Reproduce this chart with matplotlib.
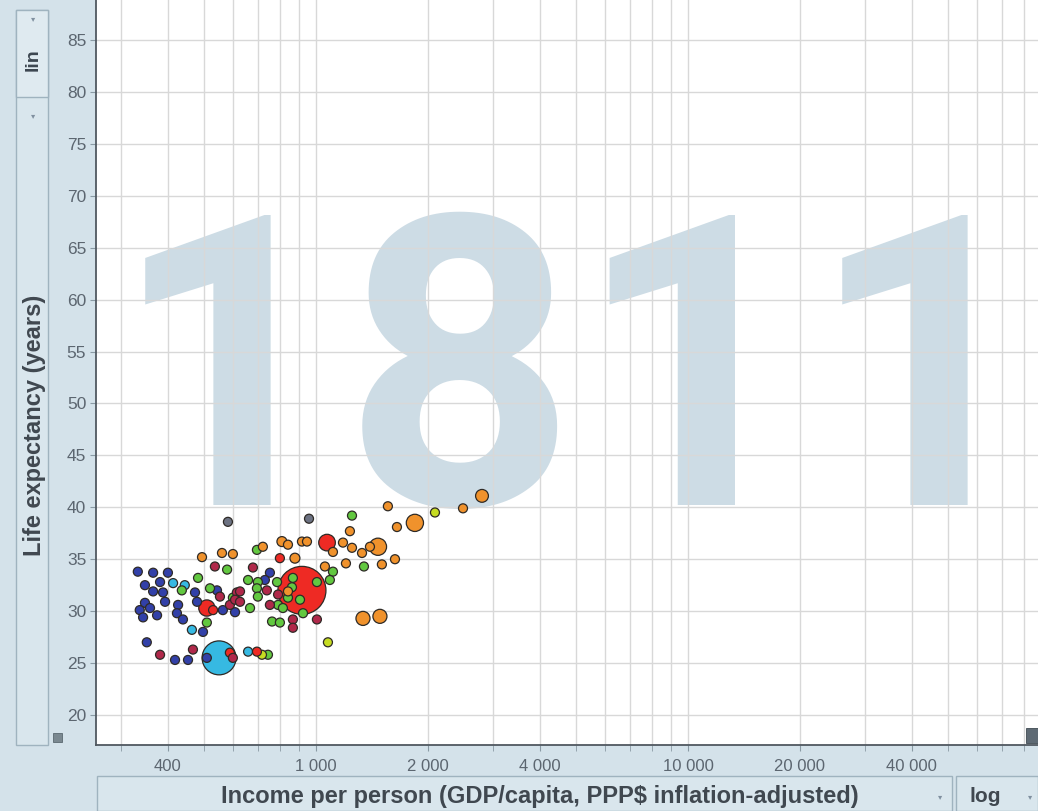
import numpy as np
import matplotlib
matplotlib.use('Agg')
import matplotlib.pyplot as plt
from matplotlib.patches import Rectangle
from matplotlib.ticker import FixedLocator, NullFormatter, FixedFormatter

# ---------------- data (year 1811) ----------------
year_label = "1811"

# Sub-Saharan Africa
income_ssa = [332, 365, 400, 347, 381, 365, 388, 393, 473, 479, 426, 347, 336, 358,
              343, 374, 423, 439, 542, 562, 497, 351, 418, 453, 509, 606, 752, 729]
life_ssa = [33.8, 33.7, 33.7, 32.5, 32.8, 31.9, 31.8, 30.9, 31.8, 30.9, 30.6, 30.8, 30.1, 30.3,
            29.4, 29.6, 29.8, 29.2, 32.0, 30.1, 28.0, 27.0, 25.3, 25.3, 25.5, 29.9, 33.7, 33.0]
pop_ssa = [3, 4, 4, 5, 4, 5, 5, 6, 6, 5, 4, 4, 4, 4, 4, 4, 4, 5, 5, 4, 5, 4, 4, 4, 5, 4, 5, 4]

# South Asia
income_sa = [549, 413, 444, 464, 657]
life_sa = [25.5, 32.7, 32.5, 28.2, 26.1]
pop_sa = [175, 4, 4, 4, 5]

# Middle East & North Africa
income_mena = [482, 519, 577, 598, 509, 436, 694, 657, 698, 786, 867, 841, 694, 698, 665,
               791, 815, 906, 1006, 1111, 1090, 923, 762, 800, 743, 1250, 1346, 862]
life_mena = [33.2, 32.2, 34.0, 31.3, 28.9, 32.0, 35.9, 33.0, 32.8, 32.8, 33.2, 31.3, 32.2, 31.4, 30.3,
             30.6, 30.3, 31.1, 32.8, 33.8, 33.0, 29.8, 29.0, 28.9, 25.8, 39.2, 34.3, 32.3]
pop_mena = [4] * 28

# America
income_am = [1077, 2089, 716]
life_am = [27.0, 39.5, 25.8]
pop_am = [6, 6, 4]

# Europe & Central Asia
income_eu = [1468, 1845, 2795, 1338, 1486, 2485, 1561, 1234, 1651, 1631, 1504, 1204, 1111, 1182,
             1250, 1330, 1397, 1057, 810, 841, 917, 946, 878, 720, 598, 559, 494, 841]
life_eu = [36.2, 38.5, 41.1, 29.3, 29.5, 39.9, 40.1, 37.7, 38.1, 35.0, 34.5, 34.6, 35.7, 36.6,
           36.1, 35.6, 36.2, 34.3, 36.7, 36.4, 36.7, 36.7, 35.1, 36.2, 35.5, 35.6, 35.2, 31.9]
pop_eu = [45, 45, 25, 30, 30, 10, 8, 10, 8, 12, 10, 8, 8, 6,
          8, 8, 10, 5, 15, 8, 6, 8, 15, 6, 5, 4, 4, 5]

# East Asia & Pacific
income_eap = [917, 1071, 509, 529, 800, 694, 587]
life_eap = [32.0, 36.6, 30.3, 30.1, 35.1, 26.1, 26.0]
pop_eap = [350, 42, 40, 6, 5, 5, 5]

# East Asia & Pacific (smaller economies, darker tone)
income_oth = [535, 552, 587, 613, 677, 738, 791, 625, 606, 625, 752, 1006, 867, 867, 381, 467, 598]
life_oth = [34.3, 31.4, 30.6, 31.8, 34.2, 32.0, 31.6, 31.9, 31.1, 30.9, 30.6, 29.2, 29.2, 28.4, 25.8, 26.3, 25.5]
pop_oth = [4, 5, 5, 4, 4, 4, 4, 4, 4, 4, 4, 5, 4, 5, 3, 4, 5]

# unclassified
income_unk = [580, 958]
life_unk = [38.6, 38.9]
pop_unk = [4, 4]

x_ticks = [400, 1000, 2000, 4000, 10000, 20000, 40000]
x_tick_labels = ["400", "1 000", "2 000", "4 000", "10 000", "20 000", "40 000"]
y_ticks = list(range(20, 90, 5))

groups = [
    (income_ssa, life_ssa, pop_ssa, '#3240a8'),
    (income_sa, life_sa, pop_sa, '#36b9e2'),
    (income_mena, life_mena, pop_mena, '#62c840'),
    (income_am, life_am, pop_am, '#c6dc22'),
    (income_eu, life_eu, pop_eu, '#f0922c'),
    (income_eap, life_eap, pop_eap, '#ee2a24'),
    (income_oth, life_oth, pop_oth, '#b0284a'),
    (income_unk, life_unk, pop_unk, '#6c7282'),
]

# ---------------- figure ----------------
W, H = 1038, 811
fig = plt.figure(figsize=(W / 100, H / 100), dpi=100)
bg = '#d4e2ea'
fig.patch.set_facecolor(bg)

def fx(px):
    return px / W

def fy(py):
    return 1 - py / H

ax = fig.add_axes([fx(96), fy(745), fx(1038) - fx(96), fy(0) - fy(745)])
ax.set_facecolor('white')
ax.set_xscale('log')
ax.set_xlim(256.3, 87300)
ax.set_ylim(17.11, 88.85)

# grid
minor_vals = [m * 10 ** e for e in (2, 3, 4) for m in range(1, 10)]
ax.xaxis.set_major_locator(FixedLocator(x_ticks))
ax.xaxis.set_major_formatter(FixedFormatter(x_tick_labels))
ax.xaxis.set_minor_locator(FixedLocator([v for v in minor_vals if v not in x_ticks]))
ax.xaxis.set_minor_formatter(NullFormatter())
ax.set_yticks(y_ticks)
ax.grid(True, which='both', color='#d8d8d8', linewidth=1.0, zorder=1)

for s in ('top', 'right'):
    ax.spines[s].set_visible(False)
for s in ('left', 'bottom'):
    ax.spines[s].set_color('#505860')
    ax.spines[s].set_linewidth(1.3)
ax.tick_params(axis='both', which='both', direction='out', length=4, color='#8a9aa4',
               labelcolor='#5c6670')
ax.tick_params(axis='y', pad=3, labelsize=12.5)
ax.tick_params(axis='x', pad=6, labelsize=12)
for lab in ax.get_xticklabels() + ax.get_yticklabels():
    lab.set_family('Liberation Sans')

# watermark year
ax.text(0.5106, 0.322, year_label, transform=ax.transAxes, fontsize=292,
        fontweight='bold', family='Roboto', color='#cddce5',
        ha='center', va='baseline', zorder=0.5)

# bubbles
xs, ys, ps, cs = [], [], [], []
for inc, lif, pop, col in groups:
    xs += inc
    ys += lif
    ps += pop
    cs += [col] * len(inc)
xs = np.array(xs, float)
ys = np.array(ys, float)
ps = np.array(ps, float)
r_px = np.maximum(4.5, 24 * np.sqrt(ps / 350.0))
sizes = (2 * r_px * 0.72) ** 2
order = np.argsort(-sizes, kind='stable')
ax.scatter(xs[order], ys[order], s=sizes[order], c=[cs[i] for i in order],
           edgecolors='#2e2a26', linewidths=0.9, zorder=3)

# ---------------- surrounding panels ----------------
# left control panel
fig.patches.append(Rectangle((fx(16), fy(745)), fx(32), fy(10) - fy(745), transform=fig.transFigure,
                             facecolor='#d9e6ed', edgecolor='#9fb3bf', linewidth=1.0, zorder=0))
fig.patches.append(Rectangle((fx(16), fy(97)), fx(32), fy(10) - fy(97), transform=fig.transFigure,
                             facecolor='#dfeaf0', edgecolor='#9fb3bf', linewidth=1.0, zorder=0))
fig.text(fx(33), fy(60), "lin", rotation=90, ha='center', va='center', fontsize=14,
         fontweight='bold', color='#3c4650', family='Liberation Sans')
fig.text(fx(33), fy(19), "\u25be", ha='center', va='center', fontsize=6, color='#8090a0')
fig.text(fx(33), fy(116), "\u25be", ha='center', va='center', fontsize=6, color='#8090a0')
fig.text(fx(35), fy(425), "Life expectancy (years)", rotation=90, ha='center', va='center',
         fontsize=17, fontweight='bold', color='#404850', family='Liberation Sans')
fig.patches.append(Rectangle((fx(53), fy(742)), fx(9), fy(733) - fy(742), transform=fig.transFigure,
                             facecolor='#7a8890', edgecolor='#5a6870', linewidth=0.6))

# bottom control panel
fig.patches.append(Rectangle((fx(97), fy(811)), fx(855), fy(776) - fy(811), transform=fig.transFigure,
                             facecolor='#d9e6ed', edgecolor='#9fb3bf', linewidth=1.0, zorder=0))
fig.patches.append(Rectangle((fx(956), fy(811)), fx(82), fy(776) - fy(811), transform=fig.transFigure,
                             facecolor='#d9e6ed', edgecolor='#9fb3bf', linewidth=1.0, zorder=0))
fig.text(fx(540), fy(797), "Income per person (GDP/capita, PPP$ inflation-adjusted)",
         ha='center', va='center', fontsize=17, fontweight='bold', color='#404850',
         family='Liberation Sans')
fig.text(fx(985), fy(797), "log", ha='center', va='center', fontsize=15, fontweight='bold',
         color='#404850', family='Liberation Sans')
fig.text(fx(940), fy(797), "\u25be", ha='center', va='center', fontsize=6, color='#8090a0')
fig.text(fx(1030), fy(797), "\u25be", ha='center', va='center', fontsize=6, color='#8090a0')

# small icon bottom-right of the plot
fig.patches.append(Rectangle((fx(1026), fy(743)), fx(12), fy(728) - fy(743), transform=fig.transFigure,
                             facecolor='#5e6a74', edgecolor='#404a52', linewidth=0.6, zorder=5))

fig.savefig('out.png', dpi=100, facecolor=fig.get_facecolor())
